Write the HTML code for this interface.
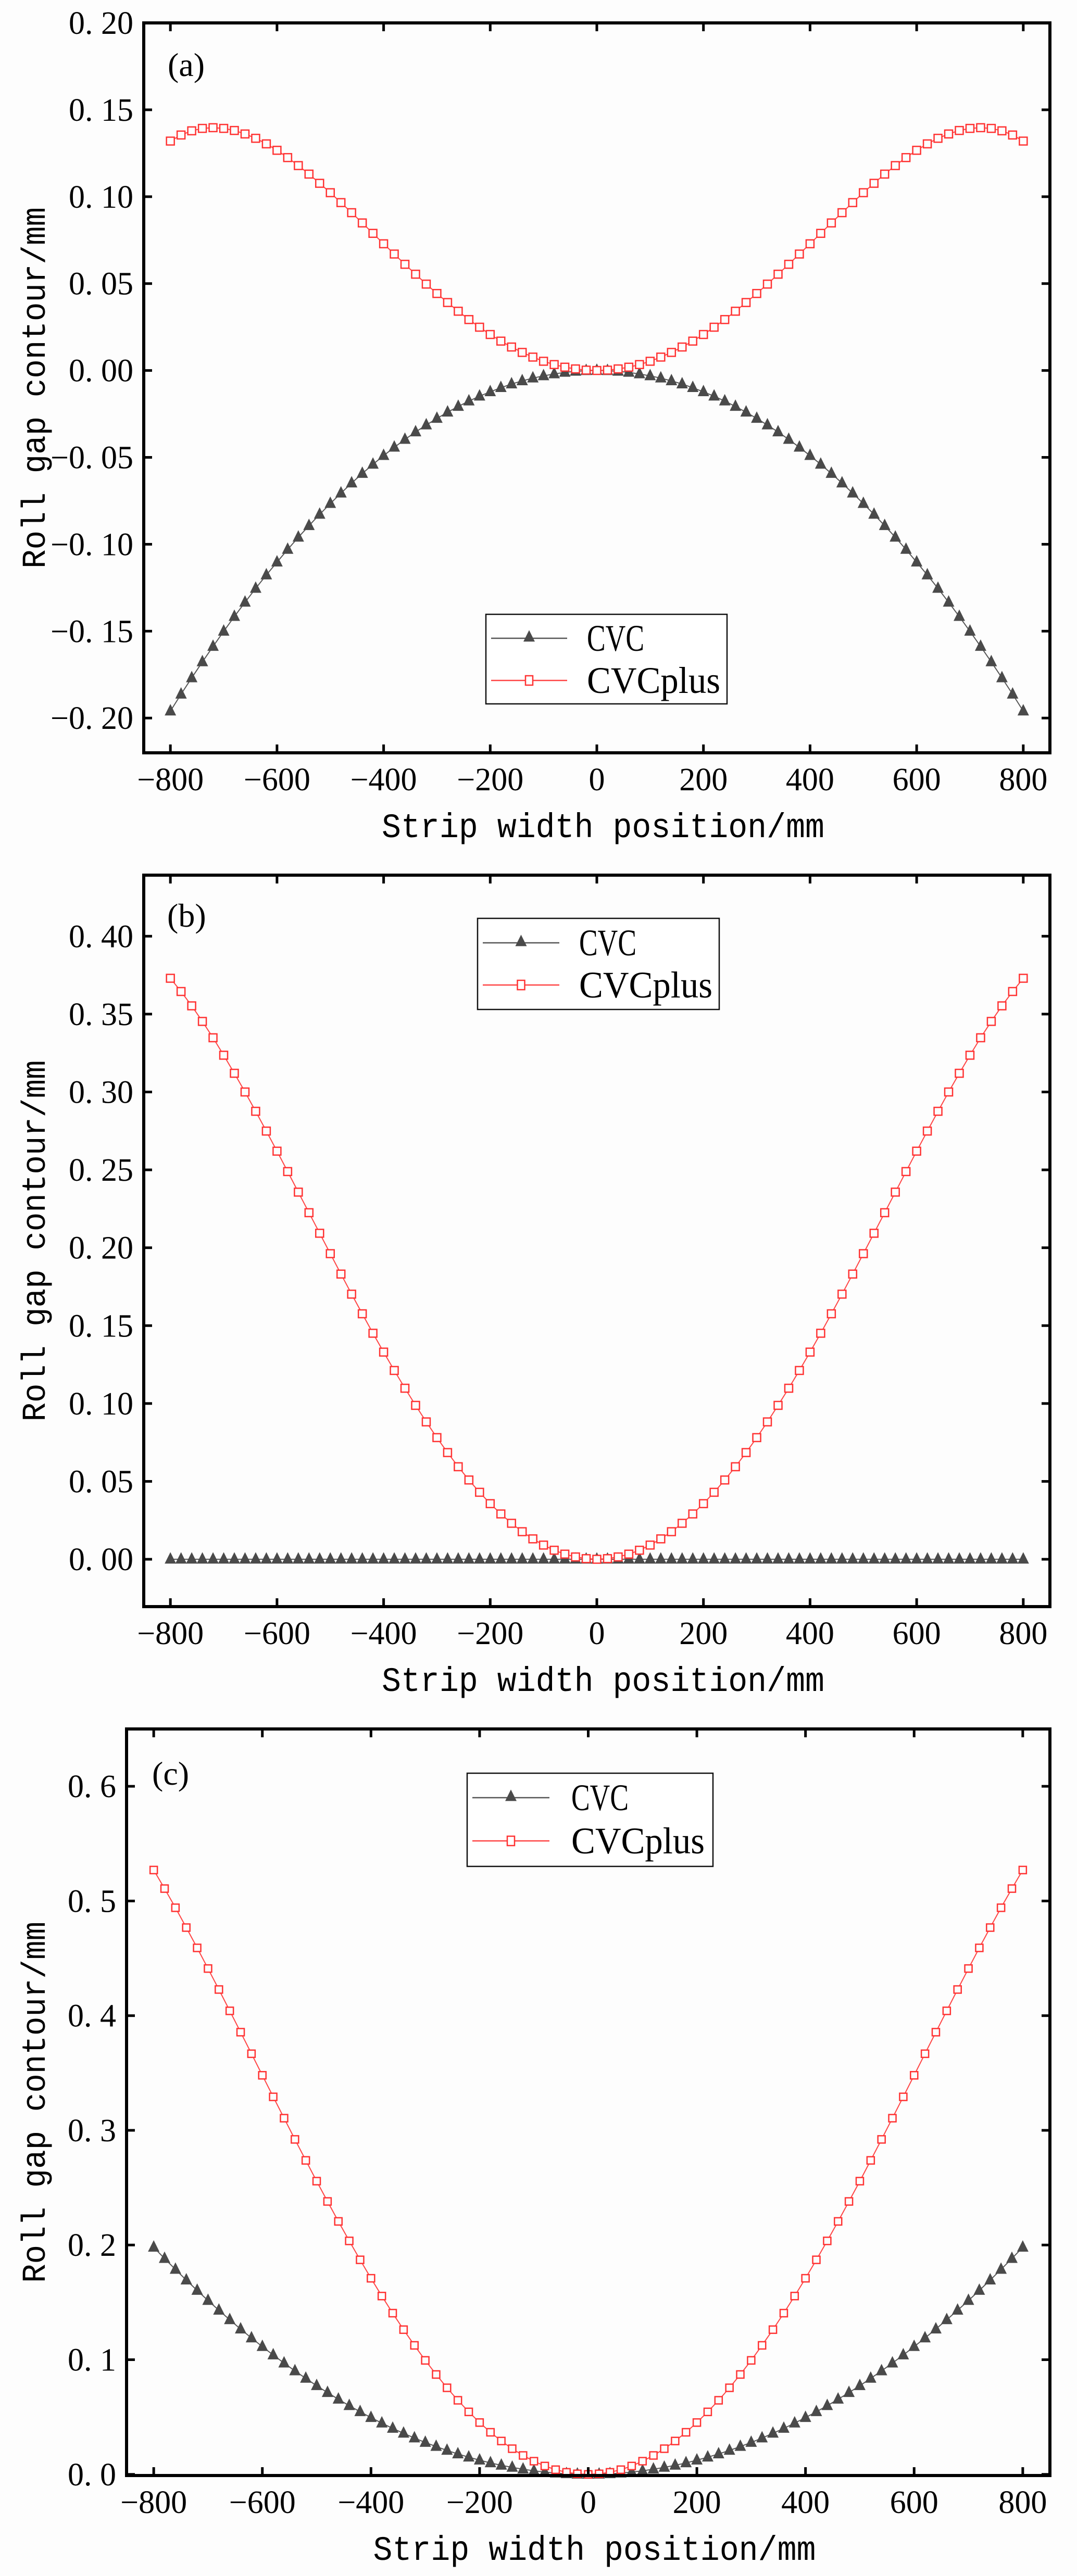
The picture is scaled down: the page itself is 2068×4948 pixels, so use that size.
<!DOCTYPE html>
<html><head><meta charset="utf-8"><style>
html,body{margin:0;padding:0;background:#fdfdfd;}
svg{display:block;}
text{font-family:"Liberation Serif",serif;fill:#000;}
.mono{font-family:"Liberation Mono",monospace;}
</style></head><body>
<svg id="fig" xmlns="http://www.w3.org/2000/svg" width="2068" height="4948" viewBox="0 0 2068 4948"></svg>
<script>
const xCategories=[-800,-780,-760,-740,-720,-700,-680,-660,-640,-620,-600,-580,-560,-540,-520,-500,-480,-460,-440,-420,-400,-380,-360,-340,-320,-300,-280,-260,-240,-220,-200,-180,-160,-140,-120,-100,-80,-60,-40,-20,0,20,40,60,80,100,120,140,160,180,200,220,240,260,280,300,320,340,360,380,400,420,440,460,480,500,520,540,560,580,600,620,640,660,680,700,720,740,760,780,800];
const xTicks=[-800,-600,-400,-200,0,200,400,600,800];

const aCVC=[-0.1960,-0.1863,-0.1769,-0.1677,-0.1588,-0.1501,-0.1416,-0.1334,-0.1254,-0.1177,-0.1103,-0.1030,-0.0960,-0.0893,-0.0828,-0.0766,-0.0706,-0.0648,-0.0593,-0.0540,-0.0490,-0.0442,-0.0397,-0.0354,-0.0314,-0.0276,-0.0240,-0.0207,-0.0176,-0.0148,-0.0123,-0.0099,-0.0078,-0.0060,-0.0044,-0.0031,-0.0020,-0.0011,-0.0005,-0.0001,0,-0.0001,-0.0005,-0.0011,-0.0020,-0.0031,-0.0044,-0.0060,-0.0078,-0.0099,-0.0123,-0.0148,-0.0176,-0.0207,-0.0240,-0.0276,-0.0314,-0.0354,-0.0397,-0.0442,-0.0490,-0.0540,-0.0593,-0.0648,-0.0706,-0.0766,-0.0828,-0.0893,-0.0960,-0.1030,-0.1103,-0.1177,-0.1254,-0.1334,-0.1416,-0.1501,-0.1588,-0.1677,-0.1769,-0.1863,-0.1960];
const aCVCplus=[0.1320,0.1355,0.1379,0.1393,0.1397,0.1393,0.1381,0.1361,0.1336,0.1304,0.1267,0.1225,0.1179,0.1130,0.1077,0.1023,0.0966,0.0908,0.0849,0.0789,0.0729,0.0670,0.0611,0.0554,0.0497,0.0443,0.0391,0.0341,0.0293,0.0249,0.0207,0.0169,0.0135,0.0104,0.0077,0.0053,0.0034,0.0019,0.0009,0.0002,0,0.0002,0.0009,0.0019,0.0034,0.0053,0.0077,0.0104,0.0135,0.0169,0.0207,0.0249,0.0293,0.0341,0.0391,0.0443,0.0497,0.0554,0.0611,0.0670,0.0729,0.0789,0.0849,0.0908,0.0966,0.1023,0.1077,0.1130,0.1179,0.1225,0.1267,0.1304,0.1336,0.1361,0.1381,0.1393,0.1397,0.1393,0.1379,0.1355,0.1320];
const aYTicks=[-0.20,-0.15,-0.10,-0.05,0.00,0.05,0.10,0.15,0.20];
const aYLabels=["\u22120. 20","\u22120. 15","\u22120. 10","\u22120. 05","0. 00","0. 05","0. 10","0. 15","0. 20"];

const bCVC=[0,0,0,0,0,0,0,0,0,0,0,0,0,0,0,0,0,0,0,0,0,0,0,0,0,0,0,0,0,0,0,0,0,0,0,0,0,0,0,0,0,0,0,0,0,0,0,0,0,0,0,0,0,0,0,0,0,0,0,0,0,0,0,0,0,0,0,0,0,0,0,0,0,0,0,0,0,0,0,0,0];
const bCVCplus=[0.3730,0.3645,0.3553,0.3453,0.3348,0.3236,0.3120,0.3000,0.2876,0.2749,0.2620,0.2489,0.2357,0.2225,0.2093,0.1962,0.1831,0.1702,0.1576,0.1451,0.1330,0.1212,0.1098,0.0988,0.0882,0.0781,0.0685,0.0594,0.0509,0.0430,0.0357,0.0291,0.0231,0.0177,0.0131,0.0091,0.0058,0.0033,0.0015,0.0004,0,0.0004,0.0015,0.0033,0.0058,0.0091,0.0131,0.0177,0.0231,0.0291,0.0357,0.0430,0.0509,0.0594,0.0685,0.0781,0.0882,0.0988,0.1098,0.1212,0.1330,0.1451,0.1576,0.1702,0.1831,0.1962,0.2093,0.2225,0.2357,0.2489,0.2620,0.2749,0.2876,0.3000,0.3120,0.3236,0.3348,0.3453,0.3553,0.3645,0.3730];
const bYTicks=[0.00,0.05,0.10,0.15,0.20,0.25,0.30,0.35,0.40];
const bYLabels=["0. 00","0. 05","0. 10","0. 15","0. 20","0. 25","0. 30","0. 35","0. 40"];

const cCVC=[0.1980,0.1882,0.1787,0.1694,0.1604,0.1516,0.1431,0.1348,0.1267,0.1189,0.1114,0.1041,0.0970,0.0902,0.0837,0.0773,0.0713,0.0655,0.0599,0.0546,0.0495,0.0447,0.0401,0.0358,0.0317,0.0278,0.0243,0.0209,0.0178,0.0150,0.0124,0.0100,0.0079,0.0061,0.0045,0.0031,0.0020,0.0011,0.0005,0.0001,0,0.0001,0.0005,0.0011,0.0020,0.0031,0.0045,0.0061,0.0079,0.0100,0.0124,0.0150,0.0178,0.0209,0.0243,0.0278,0.0317,0.0358,0.0401,0.0447,0.0495,0.0546,0.0599,0.0655,0.0713,0.0773,0.0837,0.0902,0.0970,0.1041,0.1114,0.1189,0.1267,0.1348,0.1431,0.1516,0.1604,0.1694,0.1787,0.1882,0.1980];
const cCVCplus=[0.5270,0.5108,0.4941,0.4768,0.4591,0.4411,0.4228,0.4042,0.3856,0.3668,0.3480,0.3292,0.3106,0.2921,0.2738,0.2557,0.2380,0.2206,0.2036,0.1871,0.1710,0.1555,0.1406,0.1262,0.1125,0.0994,0.0871,0.0755,0.0646,0.0545,0.0452,0.0367,0.0291,0.0224,0.0165,0.0115,0.0073,0.0041,0.0018,0.0005,0,0.0005,0.0018,0.0041,0.0073,0.0115,0.0165,0.0224,0.0291,0.0367,0.0452,0.0545,0.0646,0.0755,0.0871,0.0994,0.1125,0.1262,0.1406,0.1555,0.1710,0.1871,0.2036,0.2206,0.2380,0.2557,0.2738,0.2921,0.3106,0.3292,0.3480,0.3668,0.3856,0.4042,0.4228,0.4411,0.4591,0.4768,0.4941,0.5108,0.5270];
const cYTicks=[0.0,0.1,0.2,0.3,0.4,0.5,0.6];
const cYLabels=["0. 0","0. 1","0. 2","0. 3","0. 4","0. 5","0. 6"];

const NS="http://www.w3.org/2000/svg";
const svg=document.getElementById('fig');
function mk(tag,attrs,parent){const e=document.createElementNS(NS,tag);for(const k in attrs)e.setAttribute(k,attrs[k]);(parent||svg).appendChild(e);return e;}
function tri(cx,cy,s){return `M${cx},${cy-s*0.62} L${cx+s/2},${cy+s*0.38} L${cx-s/2},${cy+s*0.38}Z`;}

function panel(p){
  const g=mk('g',{});
  
  
  const X=v=>p.L+(v-p.xmin)/(p.xmax-p.xmin)*(p.R-p.L);
  const Y=v=>p.B-(v-p.ymin)/(p.ymax-p.ymin)*(p.B-p.T);
  // series lines + markers
  const lineC=xCategories.map((x,i)=>X(x).toFixed(1)+','+Y(p.cvc[i]).toFixed(1)).join(' ');
  const l1=mk('polyline',{points:lineC,fill:'none',stroke:'#555','stroke-width':2},g);
  
  
  const lineP=xCategories.map((x,i)=>X(x).toFixed(1)+','+Y(p.plus[i]).toFixed(1)).join(' ');
  const l2=mk('polyline',{points:lineP,fill:'none',stroke:'#ff4444','stroke-width':2},g);
  
  
  xCategories.forEach((x,i)=>{
    const t=mk('path',{d:tri(X(x),Y(p.cvc[i]),p.ts),fill:'#4a4a4a'},g);
    
    
  });
  xCategories.forEach((x,i)=>{
    const s=p.ss;
    const r=mk('rect',{x:X(x)-s/2,y:Y(p.plus[i])-s/2,width:s,height:s,fill:'#fdfdfd',stroke:'#ff3333','stroke-width':2.5},g);
    
    
  });
  // frame
  const f=mk('rect',{x:p.L,y:p.T,width:p.R-p.L,height:p.B-p.T,fill:'none',stroke:'#000','stroke-width':6},g);
  
  
  xCategories.length;
  xTicks.forEach(v=>{
    const x=X(v);
    mk('line',{x1:x,y1:p.B,x2:x,y2:p.B-16,stroke:'#000','stroke-width':5},g);
    mk('line',{x1:x,y1:p.T,x2:x,y2:p.T+16,stroke:'#000','stroke-width':5},g);
    const t=mk('text',{x:x,y:p.B+72,'font-size':62,'text-anchor':'middle'},g);
    t.textContent=(v<0?'\u2212':'')+Math.abs(v);
    
    
  });
  p.yt.forEach((v,i)=>{
    const y=Y(v);
    mk('line',{x1:p.L,y1:y,x2:p.L+16,y2:y,stroke:'#000','stroke-width':5},g);
    mk('line',{x1:p.R,y1:y,x2:p.R-16,y2:y,stroke:'#000','stroke-width':5},g);
    const t=mk('text',{x:p.L-20,y:y+21,'font-size':62,'text-anchor':'end'},g);
    t.textContent=p.yl[i];
    
    
  });
  const xt=mk('text',{x:(p.L+p.R)/2+12,y:p.B+162,'font-size':66,'text-anchor':'middle',class:'mono',textLength:850,lengthAdjust:'spacingAndGlyphs'},g);
  xt.textContent='Strip width position/mm';
  
  
  const cy=(p.T+p.B)/2;
  const yt=mk('text',{x:0,y:0,'font-size':64,'text-anchor':'middle',class:'mono',textLength:694,lengthAdjust:'spacingAndGlyphs',transform:`translate(86,${cy}) rotate(-90)`},g);
  yt.textContent='Roll gap contour/mm';
  
  
  const pl=mk('text',{x:p.lx,y:p.ly,'font-size':64},g);
  pl.textContent='('+p.id+')';
  
  
  // legend
  const lg=mk('g',{},g);
  
  
  const L=p.leg;
  mk('rect',{x:L.x,y:L.y,width:L.w,height:L.h,fill:'#fff',stroke:'#111','stroke-width':2.5},lg);
  mk('line',{x1:L.lx1,y1:L.y1,x2:L.lx2,y2:L.y1,stroke:'#555','stroke-width':2.5},lg);
  mk('path',{d:tri((L.lx1+L.lx2)/2,L.y1-2,p.ts),fill:'#4a4a4a'},lg);
  mk('line',{x1:L.lx1,y1:L.y2,x2:L.lx2,y2:L.y2,stroke:'#ff4444','stroke-width':2.5},lg);
  mk('rect',{x:(L.lx1+L.lx2)/2-7,y:L.y2-9,width:14,height:18,fill:'#fff',stroke:'#ff3333','stroke-width':2.5},lg);
  const e1=mk('text',{x:L.tx,y:L.y1+24,'font-size':72,textLength:110,lengthAdjust:'spacingAndGlyphs'},lg);
  e1.textContent='CVC';
  
  
  const e2=mk('text',{x:L.tx,y:L.y2+24,'font-size':72,textLength:256,lengthAdjust:'spacingAndGlyphs'},lg);
  e2.textContent='CVCplus';
  
  
}

panel({id:'a',L:276,R:2016,T:44,B:1446,xmin:-850,xmax:850,ymin:-0.22,ymax:0.20,cvc:aCVC,plus:aCVCplus,yt:aYTicks,yl:aYLabels,ts:22,ss:15,lx:322,ly:146,
  leg:{x:933,y:1180,w:463,h:172,lx1:943,lx2:1089,y1:1226,y2:1307,tx:1127}});
panel({id:'b',L:276,R:2016,T:1681,B:3086,xmin:-850,xmax:850,ymin:-0.0304,ymax:0.4392,cvc:bCVC,plus:bCVCplus,yt:bYTicks,yl:bYLabels,ts:22,ss:15,lx:321,ly:1780,
  leg:{x:917,y:1764,w:464,h:175,lx1:927,lx2:1074,y1:1811,y2:1892,tx:1112}});
panel({id:'c',L:243,R:2016,T:3321,B:4755,xmin:-850,xmax:850,ymin:-0.001,ymax:0.65,cvc:cCVC,plus:cCVCplus,yt:cYTicks,yl:cYLabels,ts:22,ss:14,lx:292,ly:3428,
  leg:{x:897,y:3406,w:472,h:179,lx1:907,lx2:1055,y1:3453,y2:3536,tx:1097}});
</script>
</body></html>
